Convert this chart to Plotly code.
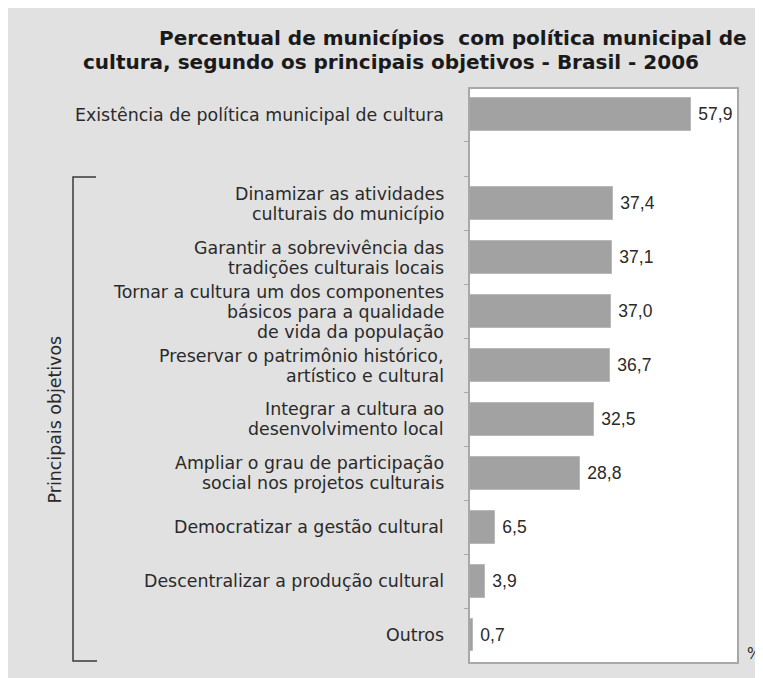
import plotly.graph_objects as go

# ---- data ----
categories = [
    "Existência de política municipal de cultura",
    "Dinamizar as atividades<br>culturais do município",
    "Garantir a sobrevivência das<br>tradições culturais locais",
    "Tornar a cultura um dos componentes<br>básicos para a qualidade<br>de vida da população",
    "Preservar o patrimônio histórico,<br>artístico e cultural",
    "Integrar a cultura ao<br>desenvolvimento local",
    "Ampliar o grau de participação<br>social nos projetos culturais",
    "Democratizar a gestão cultural",
    "Descentralizar a produção cultural",
    "Outros",
]
values = [57.9, 37.4, 37.1, 37.0, 36.7, 32.5, 28.8, 6.5, 3.9, 0.7]
title_lines = [
    "Percentual de municípios  com política municipal de",
    "cultura, segundo os principais objetivos - Brasil - 2006",
]
group_label = "Principais objetivos"
unit_label = "%"

# ---- layout helpers (page pixel coordinates; page has an 8px body margin) ----
OFF = 8
W, H = 763 - OFF, 678 - OFF
L, R, T, B = 470 - OFF, 737 - OFF, 89 - OFF, 662 - OFF
GAP = 0.65
pos = [0.0] + [1 + GAP + i for i in range(len(values) - 1)]
y_top, y_bot = -0.48, pos[-1] + 0.5
boundaries = sorted([0.5] + [p + 0.5 for p in pos[1:-1]] + [pos[1] - 0.5])

def xp(px):
    return (px - OFF - L) / (R - L)

def yp(py):
    return (B - (py - OFF)) / (B - T)

TXT = "#2a2a2a"
LABEL_FONT = dict(family="DejaVu Sans", size=17.4, color=TXT)
TITLE_FONT = dict(family="DejaVu Sans", size=20, color="#1a1a1a", weight="bold")

fig = go.Figure()
fig.add_trace(go.Bar(
    x=values, y=pos, orientation="h", width=0.61,
    marker=dict(color="#a2a2a2", line=dict(color="#b8b8b8", width=1)),
    text=[f" {v:.1f}".replace(".", ",") for v in values],
    textposition="outside",
    textfont=dict(family="Liberation Sans", size=17.5, color=TXT),
    cliponaxis=False, hoverinfo="skip",
))

annotations = []
PITCH = 20
for cat, p in zip(categories, pos):
    lines = cat.split("<br>")
    n = len(lines)
    for i, ln in enumerate(lines):
        annotations.append(dict(
            x=0, xref="x", y=p, yref="y", text=ln, showarrow=False,
            xanchor="right", yanchor="middle", xshift=-24,
            yshift=((n - 1) / 2 - i) * PITCH, font=LABEL_FONT,
        ))
annotations.append(dict(x=xp(453), y=yp(38), xref="paper", yref="paper",
                        text=title_lines[0], showarrow=False,
                        xanchor="center", yanchor="middle", font=TITLE_FONT))
annotations.append(dict(x=xp(391), y=yp(62), xref="paper", yref="paper",
                        text=title_lines[1], showarrow=False,
                        xanchor="center", yanchor="middle", font=TITLE_FONT))
annotations.append(dict(x=xp(55), y=(pos[1] - 0.5 + y_bot) / 2, xref="paper", yref="y",
                        text=group_label, textangle=-90, showarrow=False,
                        xanchor="center", yanchor="middle", font=LABEL_FONT))
annotations.append(dict(x=xp(745), y=yp(654), xref="paper", yref="paper",
                        text=unit_label, showarrow=False, xanchor="left",
                        yanchor="middle", font=dict(family="DejaVu Sans", size=15, color=TXT)))

shapes = [
    dict(type="path", xref="paper", yref="paper",
         path=f"M {xp(96)} {yp(177)} L {xp(73)} {yp(177)} L {xp(73)} {yp(661)} L {xp(97)} {yp(661)}",
         line=dict(color="#3a3a3a", width=1.5)),
]

fig.update_layout(
    width=W, height=H,
    margin=dict(l=L, r=W - R, t=T, b=H - B),
    paper_bgcolor="#e1e1e1", plot_bgcolor="white",
    showlegend=False,
    bargap=0,
    annotations=annotations,
    shapes=shapes,
    xaxis=dict(range=[0, 70], showgrid=False, zeroline=False, showticklabels=False,
               ticks="", showline=True, mirror=True, linecolor="#a8a8a8", linewidth=1.5,
               fixedrange=True),
    yaxis=dict(range=[y_bot, y_top], showgrid=False, zeroline=False,
               tickvals=boundaries, showticklabels=False, ticks="outside",
               ticklen=4, tickcolor="#a8a8a8", tickwidth=1,
               showline=True, mirror=True, linecolor="#a8a8a8", linewidth=1.5,
               fixedrange=True),
)

fig.write_html("out.html")
